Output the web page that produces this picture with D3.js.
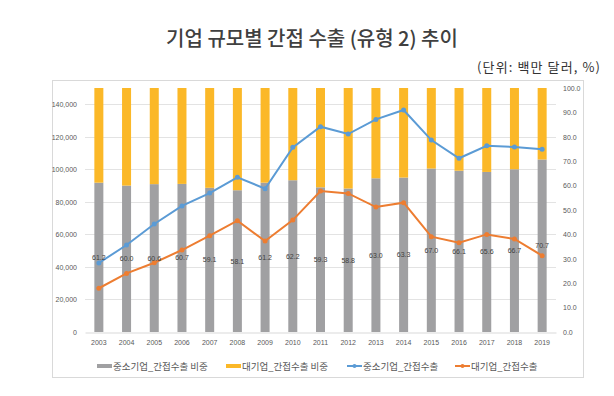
<!DOCTYPE html>
<html>
<head>
<meta charset="utf-8">
<script src="https://cdn.jsdelivr.net/npm/d3@7"></script>
<style>
  body { margin: 0; background: #fff; }
  svg { display: block; font-family: "Noto Sans CJK KR", "Noto Sans", sans-serif; }
</style>
</head>
<body>
<script>
// data
const years = ['2003','2004','2005','2006','2007','2008','2009','2010','2011','2012','2013','2014','2015','2016','2017','2018','2019'];
const smeShare = [61.2, 60.0, 60.6, 60.7, 59.1, 58.1, 61.2, 62.2, 59.3, 58.8, 63.0, 63.3, 67.0, 66.1, 65.6, 66.7, 70.7];
const smeExport = [42400, 53500, 66400, 77500, 85400, 95100, 88100, 113500, 126200, 121700, 130700, 136500, 118000, 106800, 114500, 113700, 112300];
const largeExport = [26900, 36000, 42600, 50400, 59200, 68400, 55900, 68800, 86700, 85200, 76800, 79500, 58600, 54900, 60000, 57200, 46900];
const leftTicks = [0, 20000, 40000, 60000, 80000, 100000, 120000, 140000];
const rightTicks = [0, 10, 20, 30, 40, 50, 60, 70, 80, 90, 100];
const legendNames = ['중소기업_간접수출 비중', '대기업_간접수출 비중', '중소기업_간접수출', '대기업_간접수출'];

const width = 614, height = 396;
const plot = {left: 85, right: 556, top: 88, bottom: 332};
const colors = {gray: '#a0a0a2', gold: '#fbb828', blue: '#5b9bd5', orange: '#ed7d31'};

const svg = d3.select('body').append('svg')
    .attr('width', width)
    .attr('height', height);

svg.append('text')
    .attr('x', 312).attr('y', 46)
    .attr('text-anchor', 'middle')
    .style('font-size', '20px').style('font-weight', '500')
    .attr('fill', '#404040')
    .text('기업 규모별 간접 수출 (유형 2) 추이');

svg.append('text')
    .attr('x', 601).attr('y', 72)
    .attr('text-anchor', 'end')
    .style('font-size', '13px')
    .style('letter-spacing', '1.1px')
    .attr('fill', '#333')
    .text('(단위: 백만 달러, %)');

// chart frame
svg.append('rect')
    .attr('x', 52.5).attr('y', 80.5)
    .attr('width', 531).attr('height', 297)
    .attr('fill', 'none').attr('stroke', '#d9d9d9');

const x = d3.scaleBand()
    .domain(years)
    .range([plot.left, plot.right])
    .paddingInner(0.675)
    .paddingOuter(0.3375);

const yLeft = d3.scaleLinear().domain([0, 150000]).range([plot.bottom, plot.top]);
const yRight = d3.scaleLinear().domain([0, 100]).range([plot.bottom, plot.top]);

// gridlines
svg.append('g')
    .selectAll('line')
    .data(leftTicks.slice(1))
    .enter().append('line')
    .attr('x1', plot.left).attr('x2', plot.right)
    .attr('y1', d => Math.round(yLeft(d)) + 0.5)
    .attr('y2', d => Math.round(yLeft(d)) + 0.5)
    .attr('stroke', '#e3e3e3');

// axes
const leftAxis = svg.append('g')
    .attr('transform', 'translate(' + plot.left + ',0)')
    .call(d3.axisLeft(yLeft).tickValues(leftTicks).tickSize(0).tickPadding(8).tickFormat(d3.format(',')));
leftAxis.select('.domain').remove();

const rightAxis = svg.append('g')
    .attr('transform', 'translate(' + plot.right + ',0)')
    .call(d3.axisRight(yRight).tickValues(rightTicks).tickSize(0).tickPadding(7).tickFormat(d3.format('.1f')));
rightAxis.select('.domain').remove();

const bottomAxis = svg.append('g')
    .attr('transform', 'translate(0,' + (plot.bottom + 0.5) + ')')
    .call(d3.axisBottom(x).tickSize(0).tickPadding(8));
bottomAxis.select('.domain').attr('stroke', '#d9d9d9');

svg.selectAll('.tick text')
    .style('font-size', '7px')
    .attr('fill', '#595959')
    .style('font-family', '"Liberation Sans", sans-serif');

// stacked share bars
const bars = svg.append('g');
bars.selectAll('rect.sme')
    .data(smeShare)
    .enter().append('rect')
    .attr('class', 'sme')
    .attr('x', (d, i) => x(years[i]))
    .attr('width', x.bandwidth())
    .attr('y', d => yRight(d))
    .attr('height', d => yRight(0) - yRight(d))
    .attr('fill', colors.gray);
bars.selectAll('rect.large')
    .data(smeShare)
    .enter().append('rect')
    .attr('class', 'large')
    .attr('x', (d, i) => x(years[i]))
    .attr('width', x.bandwidth())
    .attr('y', yRight(100))
    .attr('height', d => yRight(d) - yRight(100))
    .attr('fill', colors.gold);

// lines
function drawLine(values, color) {
    const line = d3.line()
        .x((d, i) => x(years[i]) + x.bandwidth() / 2)
        .y(d => yLeft(d));
    svg.append('path')
        .datum(values)
        .attr('d', line)
        .attr('fill', 'none')
        .attr('stroke', color)
        .attr('stroke-width', 2);
    svg.append('g').selectAll('circle')
        .data(values)
        .enter().append('circle')
        .attr('cx', (d, i) => x(years[i]) + x.bandwidth() / 2)
        .attr('cy', d => yLeft(d))
        .attr('r', 2.5)
        .attr('fill', color);
}
drawLine(smeExport, colors.blue);
drawLine(largeExport, colors.orange);

// share labels, centred in the gray bar
svg.append('g').selectAll('text')
    .data(smeShare)
    .enter().append('text')
    .attr('x', (d, i) => x(years[i]) + x.bandwidth() / 2)
    .attr('y', d => yRight(d / 2) + 2.5)
    .attr('text-anchor', 'middle')
    .style('font-size', '7px')
    .style('font-family', '"Liberation Sans", sans-serif')
    .attr('fill', '#404040')
    .text(d => d.toFixed(1));

// legend
const legendX = [97, 226, 347, 455];
const legend = svg.append('g').attr('transform', 'translate(0,366)');
legendNames.forEach(function (name, i) {
    const g = legend.append('g').attr('transform', 'translate(' + legendX[i] + ',0)');
    if (i < 2) {
        g.append('rect').attr('x', 0).attr('y', -2).attr('width', 15).attr('height', 4)
            .attr('fill', i === 0 ? colors.gray : colors.gold);
    } else {
        const c = i === 2 ? colors.blue : colors.orange;
        g.append('line').attr('x1', 0).attr('x2', 15).attr('y1', 0).attr('y2', 0)
            .attr('stroke', c).attr('stroke-width', 2);
        g.append('circle').attr('cx', 7.5).attr('cy', 0).attr('r', 2).attr('fill', c);
    }
    g.append('text')
        .attr('x', 16).attr('y', 3.5)
        .style('font-size', '9.5px')
        .attr('fill', '#595959')
        .text(name);
});
</script>
</body>
</html>
